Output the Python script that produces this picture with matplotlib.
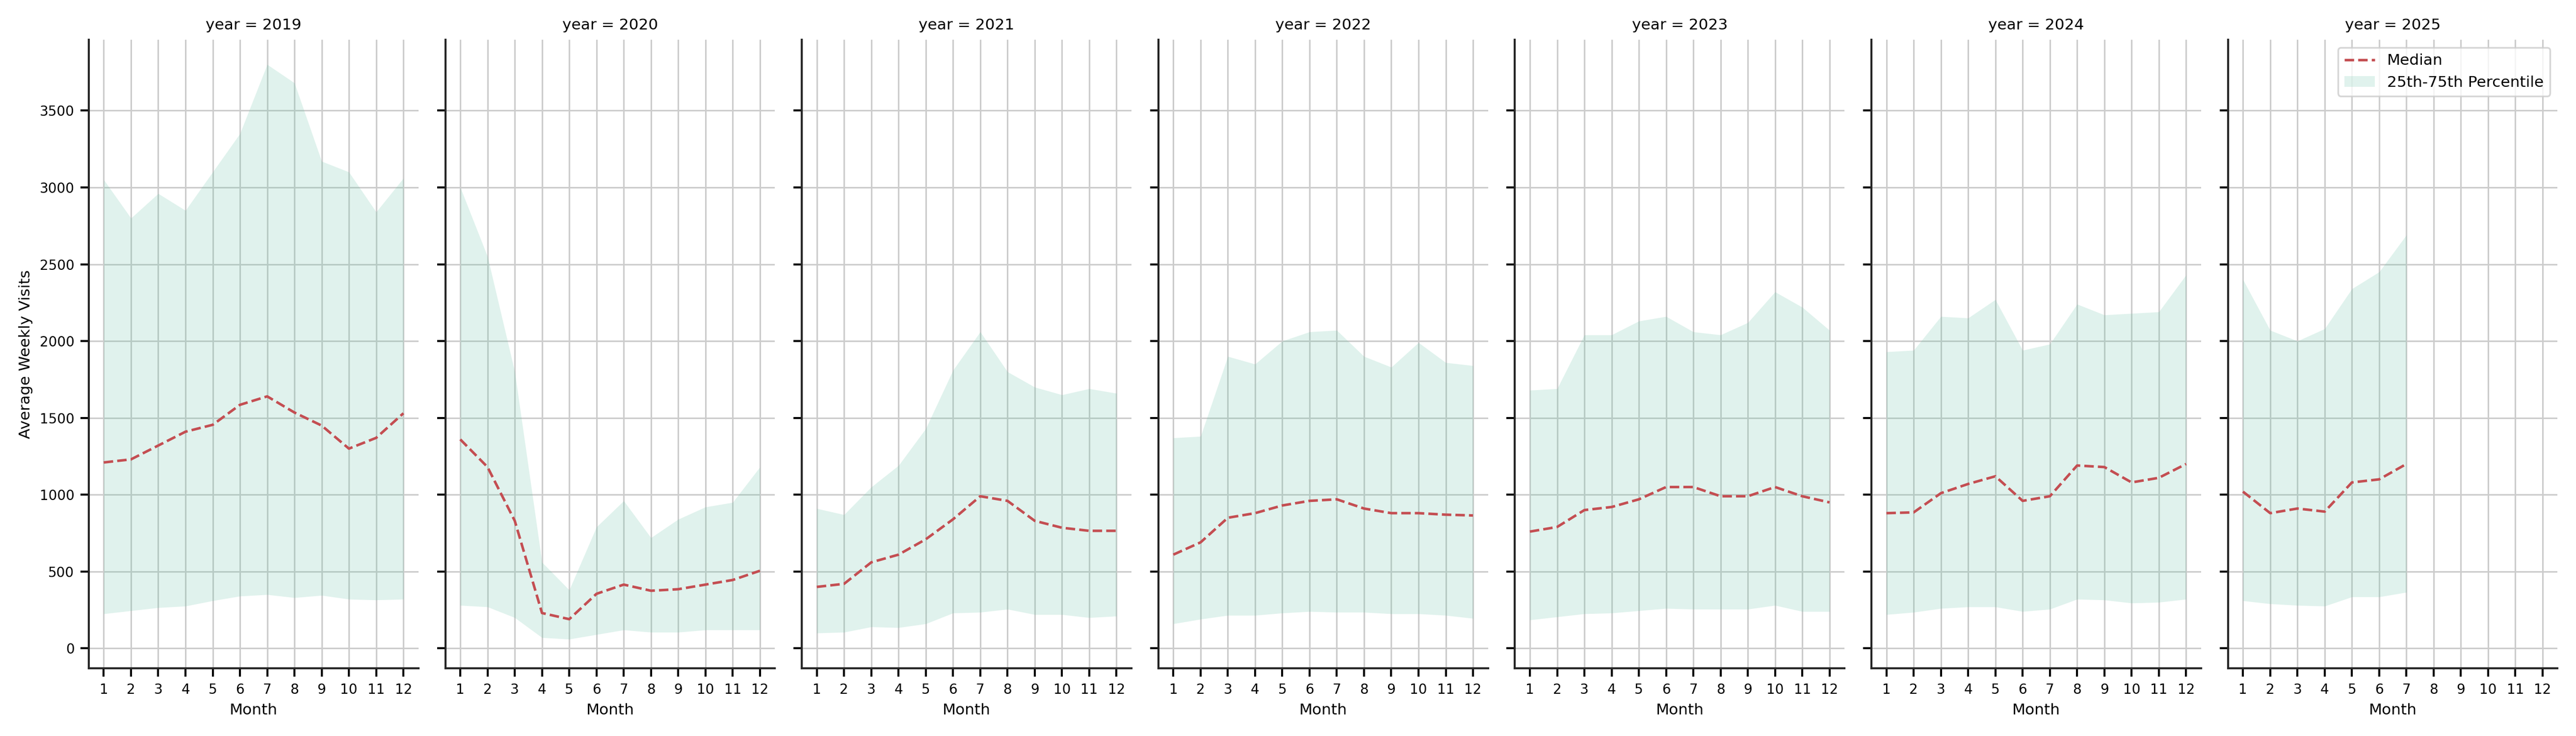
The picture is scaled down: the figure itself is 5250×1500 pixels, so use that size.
import numpy as np
import matplotlib.pyplot as plt

years = [2019, 2020, 2021, 2022, 2023, 2024, 2025]

median = {
    2019: [1210, 1230, 1320, 1410, 1455, 1585, 1640, 1535, 1450, 1300, 1370, 1530],
    2020: [1360, 1180, 830, 230, 190, 355, 415, 375, 385, 415, 445, 505],
    2021: [400, 420, 560, 610, 710, 840, 990, 960, 830, 785, 765, 765],
    2022: [610, 690, 850, 880, 930, 960, 970, 910, 880, 880, 870, 865],
    2023: [760, 790, 900, 920, 970, 1050, 1050, 990, 990, 1050, 990, 950],
    2024: [880, 885, 1010, 1070, 1120, 960, 990, 1190, 1180, 1080, 1110, 1200],
    2025: [1020, 880, 910, 890, 1080, 1100, 1200],
}
q75 = {
    2019: [3050, 2800, 2960, 2850, 3100, 3350, 3800, 3680, 3170, 3100, 2840, 3060],
    2020: [3000, 2550, 1800, 560, 380, 790, 960, 720, 840, 920, 950, 1180],
    2021: [910, 870, 1050, 1190, 1430, 1810, 2060, 1800, 1700, 1650, 1690, 1660],
    2022: [1370, 1380, 1900, 1850, 2000, 2060, 2070, 1900, 1830, 1990, 1860, 1840],
    2023: [1680, 1690, 2040, 2040, 2130, 2160, 2060, 2040, 2120, 2320, 2220, 2070],
    2024: [1930, 1940, 2160, 2150, 2270, 1940, 1980, 2240, 2170, 2180, 2190, 2430],
    2025: [2400, 2070, 2000, 2080, 2340, 2450, 2690],
}
q25 = {
    2019: [225, 245, 265, 275, 310, 340, 350, 330, 345, 320, 315, 320],
    2020: [280, 270, 200, 70, 60, 90, 120, 105, 105, 120, 120, 120],
    2021: [100, 105, 140, 135, 160, 230, 235, 255, 220, 220, 200, 210],
    2022: [160, 190, 215, 215, 230, 240, 235, 235, 225, 225, 215, 195],
    2023: [185, 205, 225, 230, 245, 260, 255, 255, 255, 280, 240, 240],
    2024: [220, 235, 260, 270, 270, 240, 255, 320, 315, 295, 300, 320],
    2025: [310, 290, 280, 275, 335, 335, 365],
}
months = np.arange(1, 13)

fig, axes = plt.subplots(1, 7, figsize=(21, 6), dpi=250, sharey=True)

for ax, yr in zip(axes, years):
    m = months[:len(median[yr])]
    ax.fill_between(m, q25[yr], q75[yr], color='#66c2a5', alpha=0.2, lw=0,
                    label='25th-75th Percentile')
    ax.plot(m, median[yr], '--', color='#c44e52', lw=1.5, label='Median')
    ax.set_title(f'year = {yr}', fontsize=9)
    ax.set_xticks(months)
    ax.set_xlim(0.45, 12.55)
    ax.set_ylim(-130, 3960)
    ax.set_yticks(np.arange(0, 3501, 500))
    ax.grid(True, color='#cccccc', lw=0.9)
    ax.set_axisbelow(True)
    ax.set_xlabel('Month', fontsize=9)
    ax.tick_params(labelsize=8, width=1.2, length=5)
    ax.tick_params(axis='y', labelleft=(yr == 2019))
    for s in ['top', 'right']:
        ax.spines[s].set_visible(False)
    for s in ['left', 'bottom']:
        ax.spines[s].set_linewidth(1.2)
        ax.spines[s].set_color('#262626')

axes[0].set_ylabel('Average Weekly Visits', fontsize=9)
h, l = axes[-1].get_legend_handles_labels()
axes[-1].legend(h[::-1], l[::-1], loc='upper right', fontsize=9)

plt.tight_layout()
plt.savefig('out.png')
